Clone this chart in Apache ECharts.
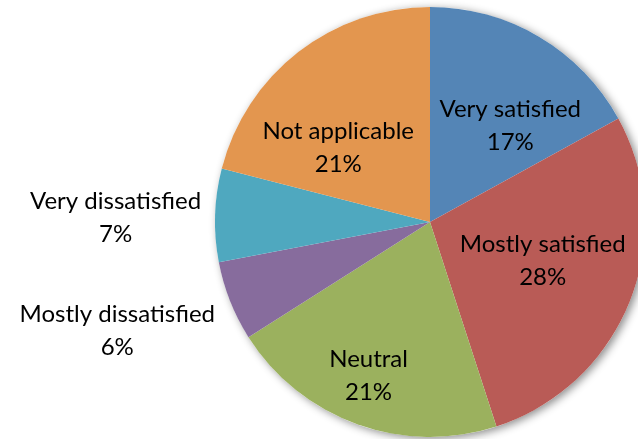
<!DOCTYPE html>
<html><head><meta charset="utf-8">
<script src="https://cdn.jsdelivr.net/npm/echarts@6/dist/echarts.min.js"></script>
<style>html,body{margin:0;padding:0;background:#fff}#c{width:638px;height:439px}</style>
</head><body><div id="c"></div>
<script>
const categories = ['Very satisfied','Mostly satisfied','Neutral','Mostly dissatisfied','Very dissatisfied','Not applicable'];
const values = [17, 28, 21, 6, 7, 21];
const colors = ['#5485B6','#B95B56','#9BB15E','#876C9D','#4FA8BF','#E3964F'];
// label nudges (dx, dy) from the default inside position, per slice
const labelNudges = [[24,-1],[10,-2],[-24,50],[-210,68],[-204,-1],[-24,13]];

const chart = echarts.init(document.getElementById('c'), null, {renderer:'canvas'});
const total = values.reduce((a,b)=>a+b,0);
chart.setOption({
  animation:false,
  series:[
    {
      type:'pie', silent:true, z:1,
      center:[430,222], radius:215, startAngle:90,
      label:{show:false}, labelLine:{show:false},
      itemStyle:{color:'#ffffff', shadowBlur:8, shadowColor:'rgba(0,0,0,0.45)', shadowOffsetX:3, shadowOffsetY:2},
      data:[{value:total, name:'all'}]
    },
    {
      type:'pie', z:2,
      center:[430,222], radius:215, startAngle:90, clockwise:true,
      itemStyle:{borderWidth:0},
      label:{show:true, position:'inside', formatter:'{b}\n{c}%', color:'#000',
             fontFamily:'Lato', fontSize:24, lineHeight:33, align:'center'},
      labelLine:{show:false},
      labelLayout:function(p){ const n = labelNudges[p.dataIndex]; return {dx:n[0], dy:n[1]}; },
      data:categories.map((c,i)=>({name:c, value:values[i], itemStyle:{color:colors[i]}}))
    }
  ]
});
</script></body></html>
